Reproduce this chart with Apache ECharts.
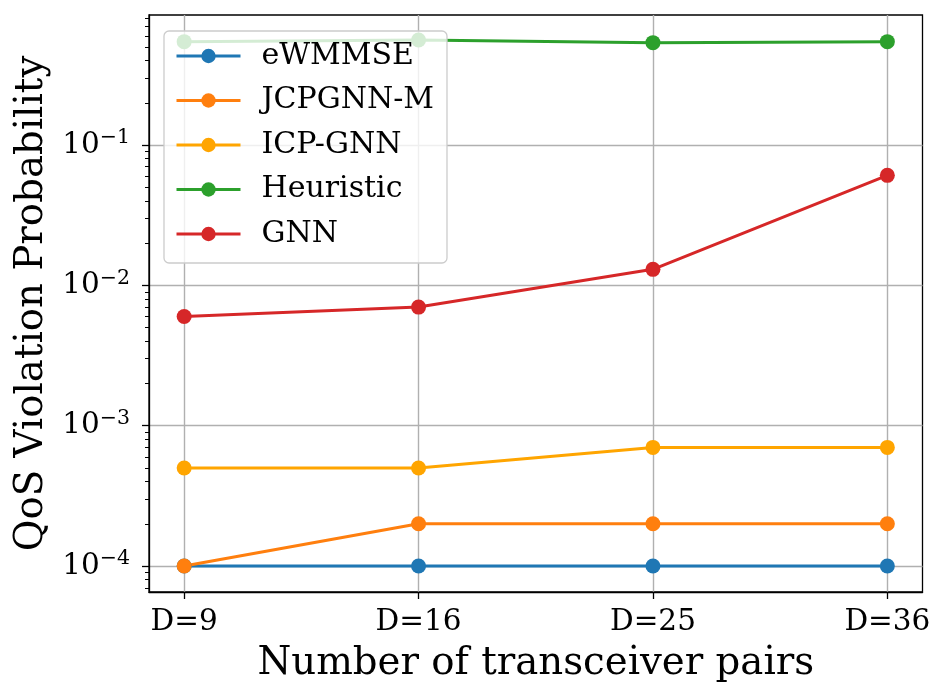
<!DOCTYPE html>
<html>
<head>
<meta charset="utf-8">
<script src="https://cdn.jsdelivr.net/npm/echarts@6/dist/echarts.min.js"></script>
<style>
html,body{margin:0;padding:0;background:#fff;}
#chart{width:947px;height:699px;}
</style>
</head>
<body>
<div id="chart"></div>
<script>
const categories = ['D=9', 'D=16', 'D=25', 'D=36'];
const seriesNames = ['eWMMSE', 'JCPGNN-M', 'ICP-GNN', 'Heuristic', 'GNN'];
const eWMMSE = [1e-4, 1e-4, 1e-4, 1e-4];
const JCPGNN_M = [1e-4, 2e-4, 2e-4, 2e-4];
const ICP_GNN = [5e-4, 5e-4, 7e-4, 7e-4];
const Heuristic = [0.545, 0.56, 0.536, 0.545];
const GNN = [0.0060, 0.0070, 0.0130, 0.0608];
const majorTicks = [1e-4, 1e-3, 1e-2, 1e-1];
const minorTicks = [7e-5, 8e-5, 9e-5,
  2e-4, 3e-4, 4e-4, 5e-4, 6e-4, 7e-4, 8e-4, 9e-4,
  2e-3, 3e-3, 4e-3, 5e-3, 6e-3, 7e-3, 8e-3, 9e-3,
  2e-2, 3e-2, 4e-2, 5e-2, 6e-2, 7e-2, 8e-2, 9e-2,
  2e-1, 3e-1, 4e-1, 5e-1, 6e-1, 7e-1, 8e-1];
const colors = ['#1f77b4', '#ff7f0e', '#ffa500', '#2ca02c', '#d62728'];
const allValues = [eWMMSE, JCPGNN_M, ICP_GNN, Heuristic, GNN];

const FONT = 'DejaVu Serif';
const yMin = 6.53e-5, yMax = 0.844;

const chart = echarts.init(document.getElementById('chart'), null, {renderer: 'canvas'});
const option = {
  animation: false,
  backgroundColor: '#fff',
  color: colors,
  grid: {left: 149, right: 24.5, top: 15, bottom: 107, show: true, borderColor: '#000', borderWidth: 1.3, backgroundColor: 'transparent'},
  legend: {
    orient: 'vertical', left: 164, top: 31,
    itemWidth: 64, itemHeight: 18, itemGap: 14.5,
    padding: [10, 13, 14, 11],
    backgroundColor: 'rgba(255,255,255,0.8)', borderColor: '#cccccc', borderWidth: 1.3, borderRadius: 5,
    lineStyle: {width: 3},
    textStyle: {fontFamily: FONT, fontSize: 30, color: '#000', lineHeight: 30, padding: [0, 0, 0, 16]},
    data: seriesNames
  },
  xAxis: {
    type: 'value', min: -0.15, max: 3.15,
    name: 'Number of transceiver pairs', nameLocation: 'middle', nameGap: 52,
    nameTextStyle: {fontFamily: FONT, fontSize: 38.7, color: '#000'},
    axisLine: {show: true, onZero: false, lineStyle: {color: '#000', width: 1.3}},
    axisTick: {show: true, customValues: [0, 1, 2, 3], length: 7, lineStyle: {color: '#000', width: 1.3}},
    axisLabel: {customValues: [0, 1, 2, 3], margin: 15, fontFamily: FONT, fontSize: 29.5, color: '#000',
      formatter: v => categories[Math.round(v)]},
    splitLine: {show: true, lineStyle: {color: '#b0b0b0', width: 1.4}}
  },
  yAxis: [{
    type: 'log', min: yMin, max: yMax, logBase: 10,
    name: 'QoS Violation Probability', nameLocation: 'middle', nameGap: 84,
    nameTextStyle: {fontFamily: FONT, fontSize: 38.7, color: '#000'},
    axisLine: {show: true, onZero: false, lineStyle: {color: '#000', width: 1.3}},
    axisTick: {show: true, customValues: majorTicks, length: 7, lineStyle: {color: '#000', width: 1.3}},
    axisLabel: {customValues: majorTicks, margin: 19, color: '#000',
      formatter: v => '{a|10}{b|\u2212' + Math.round(-Math.log10(v)) + '}',
      rich: {
        a: {fontFamily: FONT, fontSize: 29.5, color: '#000', verticalAlign: 'middle'},
        b: {fontFamily: FONT, fontSize: 20.5, color: '#000', padding: [0, 0, 14, 0], verticalAlign: 'middle'}
      }},
    splitLine: {show: true, lineStyle: {color: '#b0b0b0', width: 1.4}},
    minorTick: {show: false}
  }, {
    type: 'log', min: yMin, max: yMax, logBase: 10, position: 'left',
    axisLine: {show: false, onZero: false},
    axisTick: {show: true, customValues: minorTicks, length: 4, lineStyle: {color: '#000', width: 1}},
    axisLabel: {show: false},
    splitLine: {show: false}
  }],
  series: seriesNames.map((name, i) => ({
    name: name, type: 'line', yAxisIndex: 0,
    data: allValues[i].map((v, j) => [j, v]),
    symbol: 'circle', symbolSize: 15, showSymbol: true,
    lineStyle: {width: 3, color: colors[i]},
    itemStyle: {color: colors[i]},
    emphasis: {disabled: true}
  }))
};
chart.setOption(option);
</script>
</body>
</html>
